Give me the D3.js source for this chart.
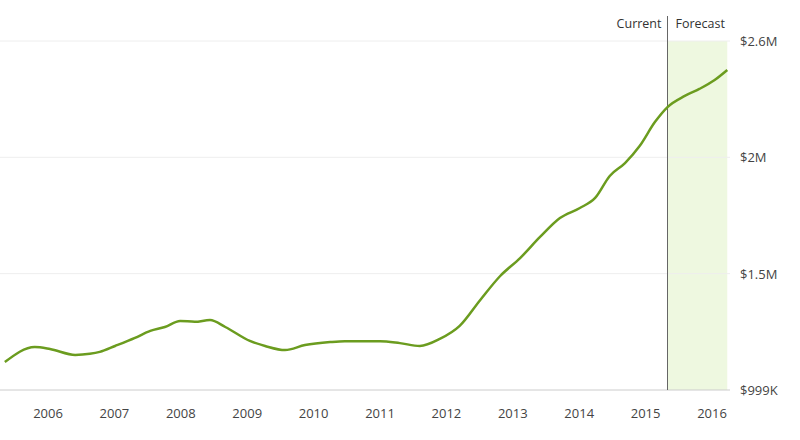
<!DOCTYPE html><html><head><meta charset="utf-8">
<script src="https://cdn.jsdelivr.net/npm/d3@7"></script>
<style>body{margin:0;background:#fff}text{font-family:"Open Sans",sans-serif}</style></head><body>
<svg id="c" width="800" height="440"></svg>
<script>
const years=[2005.35,2005.80,2006.03,2006.41,2006.63,2006.78,2007.01,2007.31,2007.54,2007.76,2007.99,2008.21,2008.44,2008.67,2009.04,2009.27,2009.57,2009.87,2010.25,2010.47,2011.0,2011.30,2011.60,2011.90,2012.20,2012.51,2012.81,2013.11,2013.41,2013.71,2014.01,2014.24,2014.46,2014.69,2014.91,2015.14,2015.33,2015.59,2015.81,2016.04,2016.23];
const values=[1127,1196,1187,1160,1165,1174,1201,1238,1270,1288,1316,1312,1320,1288,1224,1201,1182,1205,1219,1223,1223,1214,1201,1233,1293,1412,1522,1604,1701,1788,1834,1880,1981,2040,2118,2228,2297,2348,2380,2421,2467];
const yTicks=[999,1532.7,2066.3,2600];
const yLabels=["$999K","$1.5M","$2M","$2.6M"];
const xTicks=[2006,2007,2008,2009,2010,2011,2012,2013,2014,2015,2016];
const currentYear=2015.33, endYear=2016.23;
const svg=d3.select("#c");
const x=d3.scaleLinear().domain([2006,2016]).range([48,712]);
const y=d3.scaleLinear().domain([999,2600]).range([390,41]);
svg.append("rect").attr("x",x(currentYear)).attr("y",y(2600)).attr("width",x(endYear)-x(currentYear)).attr("height",y(999)-y(2600)).attr("fill","#eef8e0");
svg.selectAll(".g").data(yTicks).join("line").attr("x1",0).attr("x2",730).attr("y1",d=>y(d)).attr("y2",d=>y(d)).attr("stroke",(d,i)=>i==0?"#ccc":"#eee");
svg.selectAll(".yl").data(yTicks).join("text").attr("x",740).attr("y",d=>y(d)+5).attr("font-size",13).attr("fill","#444").text((d,i)=>yLabels[i]);
svg.selectAll(".xl").data(xTicks).join("text").attr("x",d=>x(d)).attr("y",418).attr("text-anchor","middle").attr("font-size",13).attr("fill","#444").text(d=>d);
svg.append("line").attr("x1",x(currentYear)).attr("x2",x(currentYear)).attr("y1",16).attr("y2",390).attr("stroke","#666").attr("stroke-width",1);
svg.append("text").attr("x",x(currentYear)-6).attr("y",28).attr("text-anchor","end").attr("font-size",12.5).attr("fill","#333").text("Current");
svg.append("text").attr("x",x(currentYear)+8).attr("y",28).attr("font-size",12.5).attr("fill","#333").text("Forecast");
const line=d3.line().x((d,i)=>x(years[i])).y(d=>y(d)).curve(d3.curveMonotoneX);
svg.append("path").attr("d",line(values)).attr("fill","none").attr("stroke","#6b9c1f").attr("stroke-width",2.5);
</script></body></html>
